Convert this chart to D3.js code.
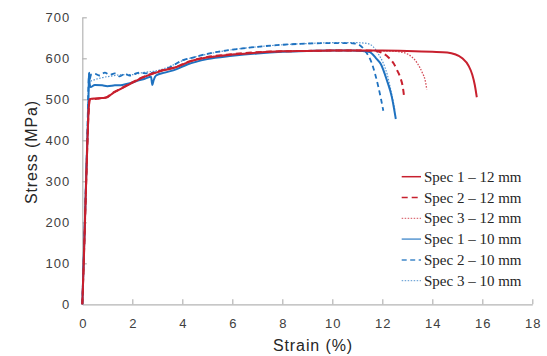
<!DOCTYPE html>
<html>
<head>
<meta charset="utf-8">
<script src="https://cdn.jsdelivr.net/npm/d3@7"></script>
<style>
  body { margin: 0; background: #fff; }
  svg { display: block; }
</style>
</head>
<body>
<div id="chart"></div>
<script>
// tick values
const xTicks = [0, 2, 4, 6, 8, 10, 12, 14, 16, 18];
const yTicks = [0, 100, 200, 300, 400, 500, 600, 700];

// series names (legend order)
const seriesNames = [
  "Spec 1 \u2013 12 mm", "Spec 2 \u2013 12 mm", "Spec 3 \u2013 12 mm",
  "Spec 1 \u2013 10 mm", "Spec 2 \u2013 10 mm", "Spec 3 \u2013 10 mm"
];

// [strain %, stress MPa]
const spec1_12 = [[0,0],[0.05,90],[0.1,190],[0.15,290],[0.2,390],[0.26,480],[0.3,500],[0.5,502],[0.8,503],[1.0,505],
  [1.2,514],[1.5,524],[1.9,537],[2.3,550],[2.8,562],[3.2,570],[3.75,578],[4.3,592],[5,602],[6,609],[7,614],[8,617],
  [9,618],[10,619],[11,619],[12,619],[13,618],[14,616],[14.6,614],[14.9,610],[15.2,600],[15.45,582],[15.6,560],
  [15.7,535],[15.78,505]];
const spec2_12 = [[0,0],[0.05,85],[0.1,185],[0.15,285],[0.2,385],[0.26,478],[0.3,500],[0.5,501],[0.8,503],[1.0,506],
  [1.2,515],[1.5,525],[1.9,538],[2.3,551],[2.8,563],[3.2,571],[3.75,579],[4.3,593],[5,603],[6,610],[7,615],[8,617],
  [9,618],[10,619],[11,619],[11.7,618],[12.0,613],[12.25,602],[12.45,588],[12.6,570],[12.72,553],[12.82,530],[12.88,502]];
const spec3_12 = [[0,0],[0.05,80],[0.1,180],[0.15,280],[0.2,380],[0.26,475],[0.3,499],[0.5,501],[0.8,503],[1.0,505],
  [1.2,514],[1.5,524],[1.9,537],[2.3,550],[2.8,562],[3.2,570],[3.75,579],[4.3,592],[5,602],[6,609],[7,614],[8,617],
  [9,618],[10,619],[11,619],[12,618],[12.5,617],[12.9,613],[13.15,605],[13.4,588],[13.6,565],[13.72,545],[13.78,524]];
const spec1_10 = [[0,0],[0.05,95],[0.1,195],[0.15,300],[0.2,400],[0.24,480],[0.26,545],[0.27,563],[0.29,540],[0.33,530],
  [0.5,535],[0.8,534],[1.0,532],[1.3,534],[1.6,535],[1.9,539],[2.2,545],[2.5,550],[2.75,555],[2.8,535],[2.85,546],
  [2.95,558],[3.3,565],[3.75,573],[4.2,585],[5,598],[6,606],[7,612],[8,616],[9,618],[10,619],[10.8,619],[11.2,618],
  [11.5,615],[11.75,600],[11.95,585],[12.18,547],[12.38,506],[12.48,474],[12.54,452]];
const spec2_10 = [[0,0],[0.05,100],[0.1,200],[0.15,305],[0.2,410],[0.25,540],[0.28,565],[0.3,550],[0.35,560],[0.5,562],
  [0.7,558],[0.9,565],[1.1,560],[1.3,563],[1.5,556],[1.7,562],[1.9,558],[2.1,562],[2.3,565],[2.6,563],[3,567],
  [3.5,578],[4,595],[4.5,603],[5,611],[6,621],[7,628],[8,633],[9,636],[10,637],[10.6,637],[10.9,636],[11.1,632],
  [11.35,615],[11.58,588],[11.72,560],[11.84,531],[11.95,500],[12.04,472]];
const spec3_10 = [[0,0],[0.05,98],[0.1,198],[0.15,302],[0.2,405],[0.25,520],[0.27,550],[0.35,545],[0.5,548],[0.8,553],
  [1.2,557],[1.6,560],[2.0,560],[2.4,565],[3,570],[3.5,580],[4,594],[5,610],[6,621],[7,628],[8,633],[9,636],
  [10,638],[11,638],[11.4,636],[11.64,628],[11.85,610],[12.04,588],[12.2,560],[12.31,531],[12.42,500],[12.5,475]];

const seriesData = [spec1_12, spec2_12, spec3_12, spec1_10, spec2_10, spec3_10];

const red = "#c8202e", blue = "#1f72c0";
const styles = [
  { color: red, width: 2, legendWidth: 1.5, dash: null },
  { color: red, width: 2, legendWidth: 1.5, dash: "6,4" },
  { color: red, width: 1.3, legendWidth: 1, dash: "1.5,1.5", opacity: 0.8 },
  { color: blue, width: 2, legendWidth: 1.5, dash: null, legendOpacity: 0.75 },
  { color: blue, width: 1.8, legendWidth: 1.5, dash: "5,3.5", legendOpacity: 0.85 },
  { color: blue, width: 1.2, legendWidth: 1, dash: "1.5,1.5", opacity: 0.75 }
];

const width = 547, height = 356;
const svg = d3.select("#chart").append("svg")
  .attr("width", width)
  .attr("height", height);

const x = d3.scaleLinear().domain([0, 18]).range([82.3, 532.3]);
const y = d3.scaleLinear().domain([0, 700]).range([304.3, 17.3]);

// axes
const xAxis = svg.append("g")
  .attr("transform", "translate(0," + y(0) + ")")
  .call(d3.axisBottom(x).tickValues(xTicks).tickSizeInner(-5).tickSizeOuter(0).tickPadding(14));
const yAxis = svg.append("g")
  .attr("transform", "translate(" + x(0) + ",0)")
  .call(d3.axisLeft(y).tickValues(yTicks).tickSizeInner(-4.5).tickSizeOuter(0).tickPadding(12));

[xAxis, yAxis].forEach(a => {
  a.select(".domain").attr("stroke", "#b4b4b4").attr("stroke-width", 1.2);
  a.selectAll(".tick line").attr("stroke", "#b4b4b4").attr("stroke-width", 1.2);
  a.selectAll(".tick text")
    .attr("fill", "#404040")
    .style("font-family", "'Liberation Sans', Arial, sans-serif")
    .style("font-size", "13px")
    .style("letter-spacing", "1px");
});
xAxis.selectAll(".tick text").attr("dx", "0.5px");
yAxis.selectAll(".tick").filter(d => d === 0).select("line").remove();

// axis titles
svg.append("text")
  .attr("x", 313).attr("y", 351)
  .attr("text-anchor", "middle")
  .attr("fill", "#262626")
  .style("font-family", "'Liberation Sans', Arial, sans-serif")
  .style("font-size", "16px")
  .style("letter-spacing", "0.9px")
  .text("Strain (%)");
svg.append("text")
  .attr("transform", "translate(36.5,152) rotate(-90)")
  .attr("text-anchor", "middle")
  .attr("fill", "#262626")
  .style("font-family", "'Liberation Sans', Arial, sans-serif")
  .style("font-size", "16px")
  .style("letter-spacing", "0.9px")
  .text("Stress (MPa)");

// curves
const line = d3.line()
  .x(d => x(d[0]))
  .y(d => y(d[1]))
  .curve(d3.curveMonotoneX);

const drawOrder = [3, 4, 5, 0, 1, 2];
drawOrder.forEach(i => {
  const s = styles[i];
  svg.append("path")
    .datum(seriesData[i])
    .attr("fill", "none")
    .attr("stroke", s.color)
    .attr("stroke-width", s.width)
    .attr("stroke-dasharray", s.dash)
    .attr("stroke-opacity", s.opacity || 1)
    .attr("d", line);
});

// legend
const legend = svg.append("g");
seriesNames.forEach((name, i) => {
  const s = styles[i];
  const cy = 176.7 + i * 20.8;
  legend.append("line")
    .attr("x1", 401.7).attr("x2", 421)
    .attr("y1", cy).attr("y2", cy)
    .attr("stroke", s.color)
    .attr("stroke-width", s.legendWidth)
    .attr("stroke-dasharray", s.dash)
    .attr("stroke-opacity", s.legendOpacity || s.opacity || 1);
  legend.append("text")
    .attr("x", 424).attr("y", cy + 5)
    .attr("fill", "#262626")
    .style("font-family", "'Liberation Serif', 'Times New Roman', serif")
    .style("font-size", "15px")
    .text(name);
});
</script>
</body>
</html>
